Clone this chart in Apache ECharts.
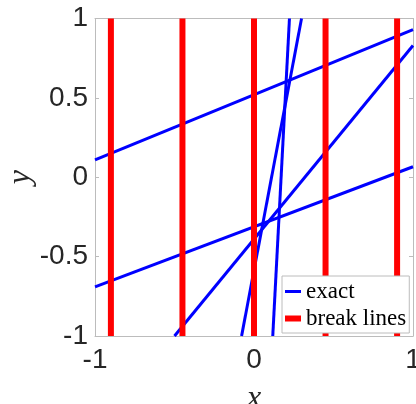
<!DOCTYPE html>
<html>
<head>
<meta charset="utf-8">
<script src="https://cdn.jsdelivr.net/npm/echarts@6/dist/echarts.min.js"></script>
<style>
html, body { margin: 0; padding: 0; background: #fff; }
#chart { width: 416px; height: 404px; }
</style>
</head>
<body>
<div id="chart"></div>
<script>
// exact solution lines, each given by its two end points
var lineA = [[-1, 0.11], [1, 0.93]];
var lineB = [[-1, -0.69], [1, 0.066]];
var lineC = [[-0.5, -1], [1, 0.83]];
var lineD = [[-0.078, -1], [0.299, 1]];
var lineE = [[0.118, -1], [0.223, 1]];
var exactLines = [lineA, lineB, lineC, lineD, lineE];

// x positions of the break lines
var breakX = [-0.9, -0.45, 0, 0.45, 0.9];
var breakY = [-1, 1];

var xTicks = [-1, 0, 1];
var yTicks = [-1, -0.5, 0, 0.5, 1];

var axisGray = '#bcbcbc';
var labelColor = '#262626';

function buildSeries() {
	var list = [];
	for (var i = 0; i < exactLines.length; i++) {
		list.push({
			name : 'exact',
			type : 'line',
			data : exactLines[i],
			showSymbol : false,
			symbol : 'none',
			lineStyle : { color : '#0000ff', width : 3, cap : 'butt' },
			itemStyle : { color : '#0000ff' },
			animation : false
		});
	}
	for (var j = 0; j < breakX.length; j++) {
		list.push({
			name : 'break lines',
			type : 'line',
			data : [[breakX[j], breakY[0]], [breakX[j], breakY[1]]],
			showSymbol : false,
			symbol : 'none',
			lineStyle : { color : '#ff0000', width : 6, cap : 'butt' },
			itemStyle : { color : '#ff0000' },
			animation : false
		});
	}
	return list;
}

var myChart = echarts.init(document.getElementById('chart'));

var option = {
	backgroundColor : '#fff',
	animation : false,
	grid : { left : 95, top : 18.5, right : 3, bottom : 68, containLabel : false, outerBoundsMode : 'none' },
	legend : {
		orient : 'vertical',
		left : 282,
		top : 276,
		padding : [4, 3, 3, 3],
		itemGap : 4,
		itemWidth : 16,
		itemHeight : 6,
		backgroundColor : '#fff',
		borderColor : axisGray,
		borderWidth : 1,
		borderRadius : 0,
		textStyle : { fontFamily : 'Liberation Serif', fontSize : 23, color : '#000', lineHeight : 22 },
		data : [
			{ name : 'exact', icon : 'path://M0,0H16V3H0Z' },
			{ name : 'break lines', icon : 'path://M0,0H16V6H0Z' }
		]
	},
	xAxis : [{
		type : 'value',
		min : xTicks[0],
		max : xTicks[xTicks.length - 1],
		interval : 1,
		name : 'x',
		nameLocation : 'middle',
		nameGap : 47,
		nameMoveOverlap : false,
		nameTextStyle : { fontFamily : 'Liberation Serif', fontStyle : 'italic', fontSize : 32, color : labelColor },
		axisLine : { onZero : false, lineStyle : { color : axisGray, width : 1 } },
		axisTick : { inside : true, length : 4, lineStyle : { color : axisGray } },
		axisLabel : { margin : 10, fontFamily : 'Liberation Sans', fontSize : 28, color : labelColor },
		splitLine : { show : false }
	}, {
		type : 'value',
		position : 'top',
		min : xTicks[0],
		max : xTicks[xTicks.length - 1],
		interval : 1,
		axisLine : { onZero : false, lineStyle : { color : axisGray, width : 1 } },
		axisTick : { inside : true, length : 4, lineStyle : { color : axisGray } },
		axisLabel : { show : false },
		splitLine : { show : false }
	}],
	yAxis : [{
		type : 'value',
		min : yTicks[0],
		max : yTicks[yTicks.length - 1],
		interval : 0.5,
		name : 'y',
		nameLocation : 'middle',
		nameGap : 58,
		nameMoveOverlap : false,
		nameTextStyle : { fontFamily : 'Liberation Serif', fontStyle : 'italic', fontSize : 32, color : labelColor },
		axisLine : { show : true, onZero : false, lineStyle : { color : axisGray, width : 1 } },
		axisTick : { show : true, inside : true, length : 4, lineStyle : { color : axisGray } },
		axisLabel : { margin : 7, fontFamily : 'Liberation Sans', fontSize : 28, color : labelColor },
		splitLine : { show : false }
	}, {
		type : 'value',
		position : 'right',
		min : yTicks[0],
		max : yTicks[yTicks.length - 1],
		interval : 0.5,
		axisLine : { show : true, onZero : false, lineStyle : { color : axisGray, width : 1 } },
		axisTick : { show : true, inside : true, length : 4, lineStyle : { color : axisGray } },
		axisLabel : { show : false },
		splitLine : { show : false }
	}],
	series : buildSeries()
};

myChart.setOption(option);
</script>
</body>
</html>
